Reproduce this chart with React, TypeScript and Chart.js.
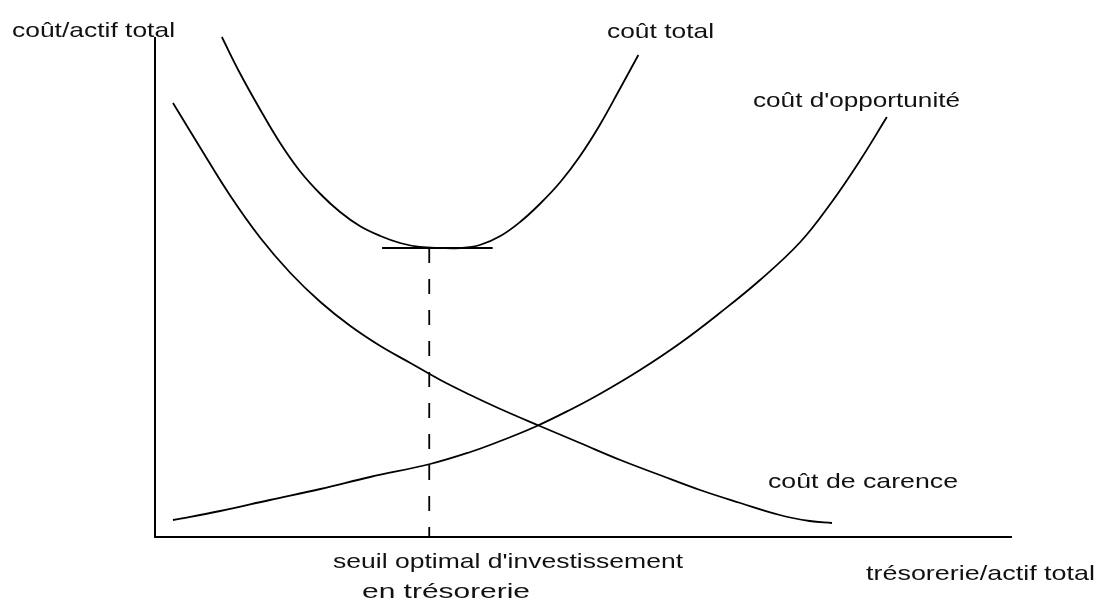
import React, { useEffect, useRef } from "react";
import { Chart, registerables } from "chart.js";

Chart.register(...registerables);

// Schematic units: x (trésorerie/actif total) 0..100, y (coût/actif total) 0..100
const carenceX = [2.1, 5.3, 8.8, 12.3, 15.8, 19.3, 22.8, 26.3, 29.8, 33.3, 36.8, 40.3, 44.9, 49.6, 54.3, 58.9, 63.6, 68.3, 72.9, 76.4, 79.0];
const carenceY = [86.8, 77.8, 68.2, 59.8, 52.8, 47.0, 42.2, 38.2, 34.8, 31.4, 28.4, 25.6, 22.2, 18.8, 15.4, 12.4, 9.4, 6.8, 4.4, 3.2, 2.8];

const opportuniteX = [2.1, 7.6, 13.4, 19.3, 25.1, 32.1, 36.8, 40.3, 44.3, 48.4, 51.9, 56.6, 61.3, 65.9, 70.6, 75.3, 78.8, 82.3, 85.4];
const opportuniteY = [3.4, 5.2, 7.4, 9.6, 12.0, 14.6, 17.0, 19.2, 22.0, 25.4, 28.6, 33.4, 38.8, 44.8, 51.4, 59.0, 66.6, 75.4, 84.0];

const totalX = [7.8, 9.9, 12.3, 14.6, 16.9, 19.3, 21.6, 23.9, 26.3, 28.6, 30.9, 33.3, 35.6, 37.9, 40.3, 42.6, 44.9, 47.3, 49.6, 51.9, 54.3, 56.4];
const totalY = [100, 92.8, 85.4, 78.8, 73.2, 68.6, 65.0, 62.2, 60.2, 58.8, 58.0, 57.8, 57.8, 58.4, 60.2, 63.0, 66.6, 71.0, 76.2, 82.4, 89.8, 96.4];

const tangentX = [26.5, 39.4];
const tangentY = [57.8, 57.8];

const optimumX = [32.0, 32.0];
const optimumY = [57.8, 0];

const labels = {
  yAxis: "coût/actif total",
  xAxis: "trésorerie/actif total",
  total: "coût total",
  opportunite: "coût d'opportunité",
  carence: "coût de carence",
  seuil1: "seuil optimal d'investissement",
  seuil2: "en trésorerie",
};

const zip = (xs: number[], ys: number[]) => xs.map((x, i) => ({ x, y: ys[i] }));

const overlay = {
  id: "overlay",
  afterDraw(chart: any) {
    const { ctx, chartArea } = chart;
    ctx.save();
    // axes
    ctx.strokeStyle = "#000";
    ctx.lineWidth = 2;
    ctx.beginPath();
    ctx.moveTo(chartArea.left, chartArea.top);
    ctx.lineTo(chartArea.left, chartArea.bottom);
    ctx.lineTo(chartArea.right, chartArea.bottom);
    ctx.stroke();

    const font = '21px "Liberation Sans", Arial, sans-serif';
    const items: [string, number, number, number][] = [
      [labels.yAxis, 12, 37, 163],
      [labels.total, 607, 38, 107],
      [labels.opportunite, 753, 107, 207],
      [labels.carence, 768, 488, 190],
      [labels.seuil1, 333, 568, 350],
      [labels.seuil2, 362, 598, 168],
      [labels.xAxis, 866, 580, 229],
    ];
    ctx.font = font;
    ctx.fillStyle = "#111";
    ctx.textBaseline = "alphabetic";
    ctx.textAlign = "left";
    for (const [t, x, y, w] of items) {
      const m = ctx.measureText(t).width;
      ctx.save();
      ctx.translate(x, y);
      ctx.scale(w / m, 1);
      ctx.fillText(t, 0, 0);
      ctx.restore();
    }
    ctx.restore();
  },
};

export default function App() {
  const ref = useRef<HTMLCanvasElement | null>(null);
  useEffect(() => {
    document.body.style.margin = "0";
    const curve = {
      borderColor: "#000",
      borderWidth: 1.8,
      pointRadius: 0,
      tension: 0.4,
      fill: false,
      clip: false as any,
    };
    const chart = new Chart(ref.current as HTMLCanvasElement, {
      type: "line",
      data: {
        datasets: [
          { ...curve, label: labels.total, data: zip(totalX, totalY) },
          { ...curve, label: labels.carence, data: zip(carenceX, carenceY) },
          { ...curve, label: labels.opportunite, data: zip(opportuniteX, opportuniteY) },
          { ...curve, tension: 0, label: "tangente", data: zip(tangentX, tangentY) },
          { ...curve, tension: 0, borderDash: [15, 16], label: "seuil", data: zip(optimumX, optimumY) },
        ],
      },
      options: {
        animation: false,
        responsive: false,
        layout: { padding: { left: 155, top: 37, right: 86, bottom: 65 } },
        plugins: { legend: { display: false }, tooltip: { enabled: false } },
        scales: {
          x: { type: "linear", min: 0, max: 100, display: false },
          y: { type: "linear", min: 0, max: 100, display: false },
        },
      },
      plugins: [overlay],
    });
    return () => chart.destroy();
  }, []);
  return (
    <div style={{ position: "fixed", left: 0, top: 0, width: 1098, height: 602, background: "#fff" }}>
      <canvas ref={ref} width={1098} height={602} style={{ display: "block" }} />
    </div>
  );
}
